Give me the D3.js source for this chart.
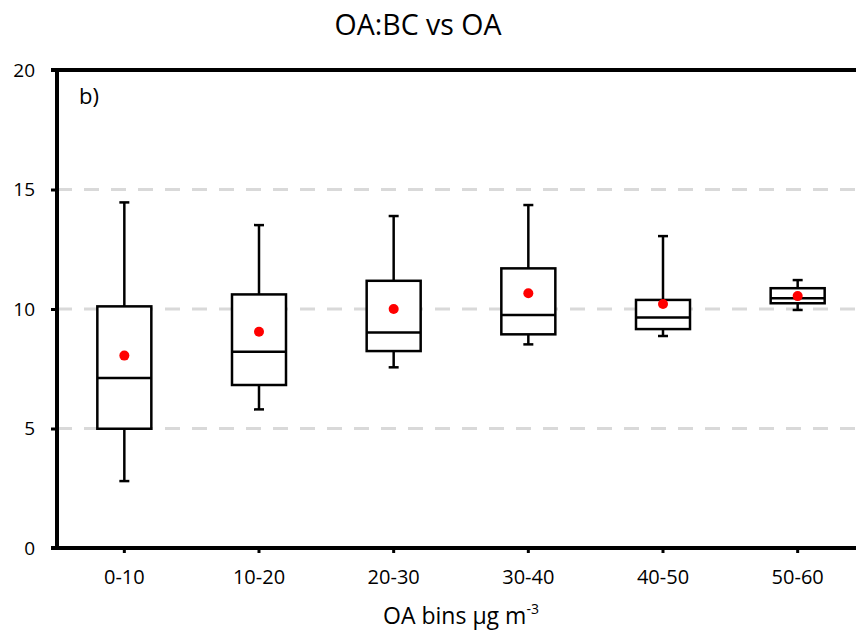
<!DOCTYPE html>
<html>
<head>
<meta charset="utf-8">
<script src="https://cdn.jsdelivr.net/npm/d3@7"></script>
<style>
  body { margin: 0; background: #fff; }
  text { font-family: "Open Sans", "Liberation Sans", sans-serif; fill: #000; }
</style>
</head>
<body>
<div id="chart"></div>
<script>
const bins = ['0-10', '10-20', '20-30', '30-40', '40-50', '50-60'];
const whiskerLow = [2.8, 5.8, 7.56, 8.52, 8.87, 9.96];
const q1 = [4.99, 6.82, 8.24, 8.94, 9.16, 10.24];
const median = [7.11, 8.21, 9.02, 9.75, 9.64, 10.45];
const q3 = [10.11, 10.61, 11.18, 11.7, 10.38, 10.87];
const whiskerHigh = [14.46, 13.51, 13.89, 14.35, 13.05, 11.21];
const mean = [8.05, 9.05, 10.0, 10.66, 10.21, 10.54];
const yTicks = [0, 5, 10, 15, 20];
const gridTicks = [5, 10, 15];

const width = 856;
const height = 633;
const margin = {top: 70, left: 57, bottom: 85};
const plotRight = 865;

const svg = d3.select('#chart').append('svg')
  .attr('width', width)
  .attr('height', height);

const x = d3.scaleBand().domain(bins).range([margin.left, plotRight]);
const y = d3.scaleLinear().domain([0, 20]).range([height - margin.bottom, margin.top]);

const boxWidth = 54;
const capWidth = 10;

// grid
svg.append('g')
  .selectAll('line')
  .data(gridTicks)
  .enter().append('line')
  .attr('x1', margin.left)
  .attr('x2', width)
  .attr('y1', (d) => y(d))
  .attr('y2', (d) => y(d))
  .style('stroke', '#d9d9d9')
  .style('stroke-width', 3)
  .style('stroke-dasharray', '15,12');

// boxes
const data = bins.map((b, i) => ({
  bin: b, lo: whiskerLow[i], q1: q1[i], med: median[i], q3: q3[i], hi: whiskerHigh[i], mean: mean[i],
}));

const boxes = svg.append('g')
  .selectAll('g')
  .data(data)
  .enter().append('g')
  .attr('transform', (d) => `translate(${x(d.bin) + x.bandwidth() / 2},0)`);

boxes.append('line')
  .attr('x1', 0).attr('x2', 0)
  .attr('y1', (d) => y(d.q3)).attr('y2', (d) => y(d.hi))
  .style('stroke', '#000').style('stroke-width', 2.5);

boxes.append('line')
  .attr('x1', 0).attr('x2', 0)
  .attr('y1', (d) => y(d.q1)).attr('y2', (d) => y(d.lo))
  .style('stroke', '#000').style('stroke-width', 2.5);

boxes.append('line')
  .attr('x1', -capWidth / 2).attr('x2', capWidth / 2)
  .attr('y1', (d) => y(d.hi)).attr('y2', (d) => y(d.hi))
  .style('stroke', '#000').style('stroke-width', 2.5);

boxes.append('line')
  .attr('x1', -capWidth / 2).attr('x2', capWidth / 2)
  .attr('y1', (d) => y(d.lo)).attr('y2', (d) => y(d.lo))
  .style('stroke', '#000').style('stroke-width', 2.5);

boxes.append('rect')
  .attr('x', -boxWidth / 2)
  .attr('width', boxWidth)
  .attr('y', (d) => y(d.q3))
  .attr('height', (d) => y(d.q1) - y(d.q3))
  .style('fill', '#fff')
  .style('stroke', '#000')
  .style('stroke-width', 2.5);

boxes.append('line')
  .attr('x1', -boxWidth / 2).attr('x2', boxWidth / 2)
  .attr('y1', (d) => y(d.med)).attr('y2', (d) => y(d.med))
  .style('stroke', '#000').style('stroke-width', 2.5);

boxes.append('circle')
  .attr('cx', 0)
  .attr('cy', (d) => y(d.mean))
  .attr('r', 5)
  .style('fill', '#ff0000');

// axes
const yAxis = d3.axisLeft(y).tickValues(yTicks).tickSize(6).tickPadding(16);
const gy = svg.append('g')
  .attr('transform', `translate(${margin.left},0)`)
  .call(yAxis);
gy.select('.domain').remove();
gy.selectAll('.tick line').style('stroke', '#000').style('stroke-width', 3);
gy.selectAll('.tick text').style('font-size', '19px');

const xAxis = d3.axisBottom(x).tickSize(5).tickPadding(17);
const gx = svg.append('g')
  .attr('transform', `translate(0,${y(0)})`)
  .call(xAxis);
gx.select('.domain').remove();
gx.selectAll('.tick line').style('stroke', '#000').style('stroke-width', 3);
gx.selectAll('.tick text').style('font-size', '20px');

// frame: left, bottom, top
svg.append('line')
  .attr('x1', margin.left).attr('x2', margin.left)
  .attr('y1', y(20) - 2).attr('y2', y(0) + 2)
  .style('stroke', '#000').style('stroke-width', 4);
svg.append('line')
  .attr('x1', margin.left - 6).attr('x2', width)
  .attr('y1', y(0)).attr('y2', y(0))
  .style('stroke', '#000').style('stroke-width', 4);
svg.append('line')
  .attr('x1', margin.left - 6).attr('x2', width)
  .attr('y1', y(20)).attr('y2', y(20))
  .style('stroke', '#000').style('stroke-width', 4);

// texts
svg.append('text')
  .attr('x', 418).attr('y', 35)
  .style('text-anchor', 'middle')
  .style('font-size', '28.5px')
  .text('OA:BC vs OA');

svg.append('text')
  .attr('x', 79).attr('y', 104)
  .style('font-size', '22px')
  .text('b)');

const xLabel = svg.append('text')
  .attr('x', 461).attr('y', 624)
  .style('text-anchor', 'middle')
  .style('font-size', '23px')
  .text('OA bins µg m');
xLabel.append('tspan')
  .attr('dy', -10)
  .style('font-size', '14px')
  .text('-3');
</script>
</body>
</html>
